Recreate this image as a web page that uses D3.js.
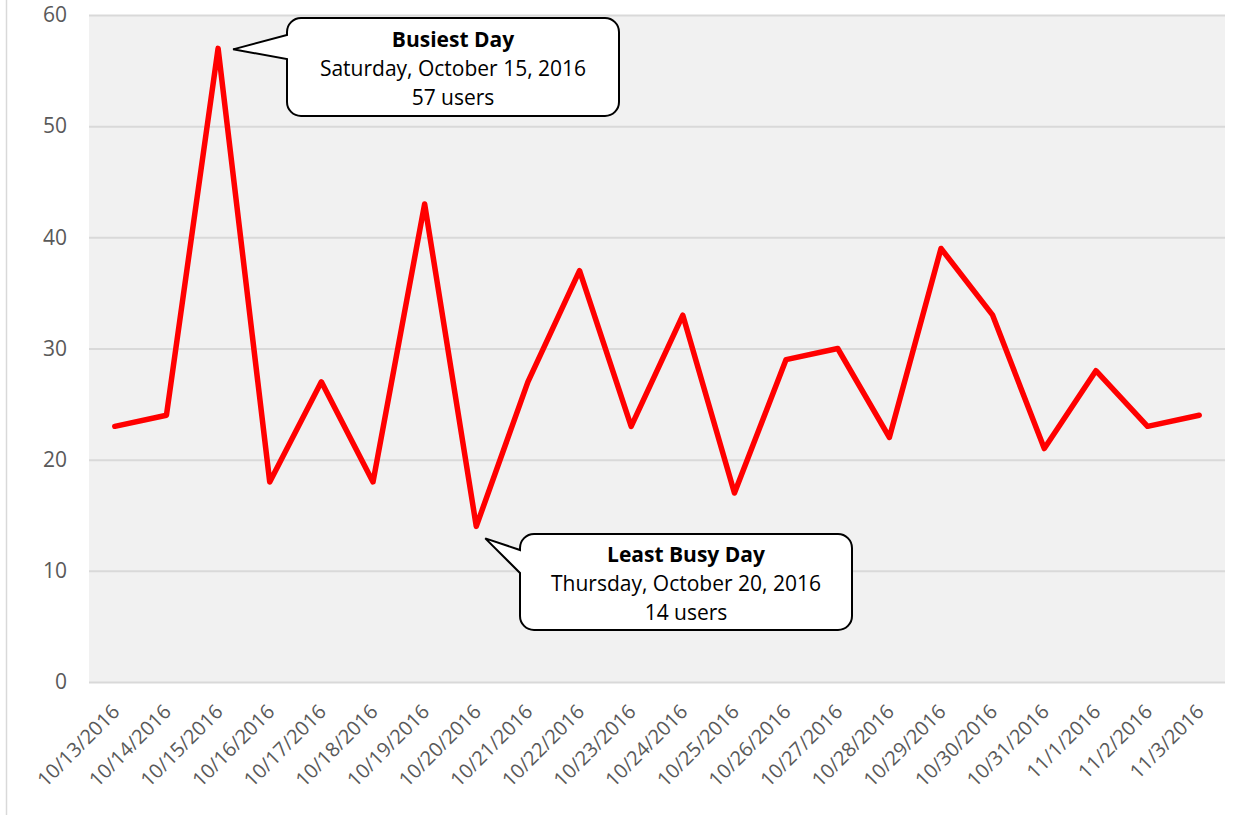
<!DOCTYPE html>
<html>
<head>
<meta charset="utf-8">
<script src="https://cdn.jsdelivr.net/npm/d3@7"></script>
<style>
  body { margin: 0; background: #fff; }
  text { font-family: "Open Sans", "Liberation Sans", sans-serif; }
</style>
</head>
<body>
<div id="vis"></div>
<script>
// data
const dates = ["10/13/2016", "10/14/2016", "10/15/2016", "10/16/2016", "10/17/2016", "10/18/2016",
  "10/19/2016", "10/20/2016", "10/21/2016", "10/22/2016", "10/23/2016", "10/24/2016", "10/25/2016",
  "10/26/2016", "10/27/2016", "10/28/2016", "10/29/2016", "10/30/2016", "10/31/2016", "11/1/2016",
  "11/2/2016", "11/3/2016"]
const users = [23, 24, 57, 18, 27, 18, 43, 14, 27, 37, 23, 33, 17, 29, 30, 22, 39, 33, 21, 28, 23, 24]
const yTicks = [0, 10, 20, 30, 40, 50, 60]

const busiest = { idx: 2, lines: ["Busiest Day", "Saturday, October 15, 2016", "57 users"] }
const leastBusy = { idx: 7, lines: ["Least Busy Day", "Thursday, October 20, 2016", "14 users"] }

const W = 1251, H = 815
const plot = { left: 89, right: 1225, top: 15, bottom: 682 }

const svg = d3.select('#vis').append('svg')
  .attr('width', W)
  .attr('height', H)

// outer frame edge
svg.append('line')
  .attr('x1', 6.5).attr('x2', 6.5).attr('y1', 0).attr('y2', H)
  .attr('stroke', '#d9d9d9').attr('stroke-width', 1.5)

const x = d3.scaleBand()
  .domain(dates)
  .range([plot.left, plot.right])

const y = d3.scaleLinear()
  .domain([0, 60])
  .range([plot.bottom, plot.top])

svg.append('rect')
  .attr('x', plot.left).attr('y', plot.top)
  .attr('width', plot.right - plot.left)
  .attr('height', plot.bottom - plot.top)
  .attr('fill', '#f1f1f1')

// gridlines + y labels
const yAxis = svg.append('g')
  .attr('transform', `translate(${plot.left},0)`)
  .call(d3.axisLeft(y).tickValues(yTicks).tickSize(-(plot.right - plot.left)).tickPadding(22))
yAxis.select('.domain').remove()
yAxis.selectAll('.tick line').attr('stroke', '#d9d9d9').attr('stroke-width', 2)
yAxis.selectAll('.tick text')
  .attr('fill', '#595959')
  .attr('font-size', 21)

// x labels, rotated
const xAxis = svg.append('g')
  .attr('transform', `translate(0,${plot.bottom})`)
  .call(d3.axisBottom(x).tickSize(0))
xAxis.select('.domain').remove()
xAxis.selectAll('.tick text')
  .attr('fill', '#595959')
  .attr('font-size', 20)
  .attr('text-anchor', 'end')
  .attr('y', 0)
  .attr('dy', 0)
  .attr('transform', 'translate(6,31) rotate(-45)')

// the line
const line = d3.line()
  .x((d, i) => x(dates[i]) + x.bandwidth() / 2)
  .y(d => y(d))

svg.append('path')
  .datum(users)
  .attr('d', line)
  .attr('fill', 'none')
  .attr('stroke', '#ff0000')
  .attr('stroke-width', 5.5)
  .attr('stroke-linejoin', 'round')
  .attr('stroke-linecap', 'round')

// callout: rounded box with a pointer from its left edge
function callout(c, box, tipOff, baseY1, baseY2) {
  const px = x(dates[c.idx]) + x.bandwidth() / 2
  const py = y(users[c.idx])
  const tx = px + tipOff[0], ty = py + tipOff[1]
  const r = 14
  const { x0, y0, w, h } = box
  const x1 = x0 + w, y1 = y0 + h
  const p = d3.path()
  p.moveTo(x0 + r, y0)
  p.lineTo(x1 - r, y0)
  p.arcTo(x1, y0, x1, y0 + r, r)
  p.lineTo(x1, y1 - r)
  p.arcTo(x1, y1, x1 - r, y1, r)
  p.lineTo(x0 + r, y1)
  p.arcTo(x0, y1, x0, y1 - r, r)
  p.lineTo(x0, baseY2)
  p.lineTo(tx, ty)
  p.lineTo(x0, baseY1)
  p.lineTo(x0, y0 + r)
  p.arcTo(x0, y0, x0 + r, y0, r)
  p.closePath()
  svg.append('path')
    .attr('d', p.toString())
    .attr('fill', '#fff')
    .attr('stroke', '#000')
    .attr('stroke-width', 2)
    .attr('stroke-linejoin', 'miter')

  const cx = x0 + w / 2
  svg.append('g').selectAll('text')
    .data(c.lines)
    .join('text')
    .attr('x', cx)
    .attr('y', (d, i) => y0 + h / 2 + 2 + (i - 1) * 29)
    .attr('dy', '0.35em')
    .attr('text-anchor', 'middle')
    .attr('fill', '#000')
    .attr('font-size', 21)
    .attr('font-weight', (d, i) => i === 0 ? 'bold' : 'normal')
    .text(d => d)
}

callout(busiest, { x0: 287, y0: 18, w: 332, h: 98 }, [15, 1], 35, 59)
callout(leastBusy, { x0: 520, y0: 534, w: 332, h: 96 }, [9, 12], 550, 573)
</script>
</body>
</html>
